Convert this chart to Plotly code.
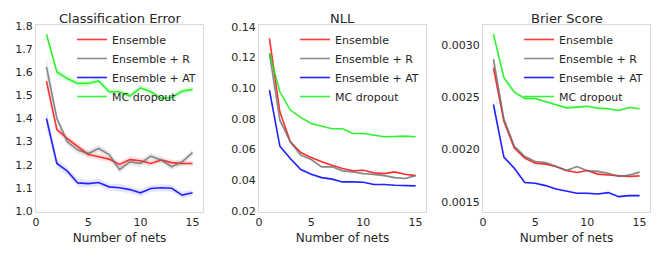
import plotly.graph_objects as go

nets = list(range(1, 16))

series_names = ["Ensemble", "Ensemble + R", "Ensemble + AT", "MC dropout"]
series_colors = ["rgba(255,0,0,0.78)", "rgba(110,110,110,0.8)", "rgba(0,0,255,0.85)", "rgba(0,240,0,0.78)"]
band_colors = ["rgba(255,0,0,0.12)", "rgba(110,110,110,0.15)", "rgba(0,0,255,0.10)", "rgba(0,235,0,0.15)"]

panel_titles = ["Classification Error", "NLL", "Brier Score"]
x_title = "Number of nets"

# Classification error
ce_ens = [1.562, 1.352, 1.313, 1.277, 1.244, 1.234, 1.224, 1.201, 1.222, 1.217, 1.205, 1.220, 1.209, 1.205, 1.205]
ce_ens_r = [1.624, 1.400, 1.299, 1.263, 1.248, 1.270, 1.244, 1.179, 1.212, 1.205, 1.237, 1.220, 1.191, 1.212, 1.252]
ce_ens_at = [1.400, 1.205, 1.172, 1.121, 1.118, 1.123, 1.104, 1.100, 1.092, 1.078, 1.097, 1.100, 1.098, 1.068, 1.078]
ce_mc = [1.765, 1.602, 1.573, 1.552, 1.552, 1.563, 1.516, 1.516, 1.497, 1.533, 1.516, 1.487, 1.491, 1.518, 1.526]
ce_ens_sd = [0.025, 0.015, 0.015, 0.015, 0.014, 0.014, 0.013, 0.013, 0.013, 0.013, 0.012, 0.012, 0.012, 0.012, 0.012]
ce_ens_r_sd = [0.045, 0.020, 0.016, 0.016, 0.015, 0.015, 0.015, 0.015, 0.015, 0.015, 0.015, 0.014, 0.014, 0.014, 0.014]
ce_ens_at_sd = [0.040, 0.020, 0.018, 0.018, 0.016, 0.016, 0.016, 0.016, 0.016, 0.016, 0.015, 0.015, 0.015, 0.015, 0.015]
ce_mc_sd = [0.015, 0.015, 0.014, 0.013, 0.013, 0.013, 0.013, 0.013, 0.013, 0.013, 0.013, 0.012, 0.012, 0.012, 0.012]

# NLL
nll_ens = [0.1324, 0.0846, 0.0650, 0.0580, 0.0548, 0.0520, 0.0498, 0.0476, 0.0461, 0.0465, 0.0448, 0.0443, 0.0454, 0.0439, 0.0430]
nll_ens_r = [0.1226, 0.0791, 0.0650, 0.0563, 0.0535, 0.0487, 0.0487, 0.0461, 0.0454, 0.0443, 0.0437, 0.0430, 0.0417, 0.0411, 0.0430]
nll_ens_at = [0.0987, 0.0622, 0.0541, 0.0470, 0.0439, 0.0417, 0.0407, 0.0389, 0.0389, 0.0387, 0.0372, 0.0372, 0.0367, 0.0367, 0.0363]
nll_mc = [0.1226, 0.0976, 0.0857, 0.0809, 0.0770, 0.0752, 0.0735, 0.0735, 0.0704, 0.0704, 0.0693, 0.0683, 0.0685, 0.0687, 0.0683]
nll_ens_sd = [0.004, 0.0012, 0.0008, 0.0007, 0.0006, 0.0006, 0.0005, 0.0005, 0.0005, 0.0005, 0.0005, 0.0005, 0.0005, 0.0005, 0.0005]
nll_ens_r_sd = [0.003, 0.0012, 0.0008, 0.0007, 0.0006, 0.0006, 0.0005, 0.0005, 0.0005, 0.0005, 0.0005, 0.0005, 0.0005, 0.0005, 0.0005]
nll_ens_at_sd = [0.004, 0.0010, 0.0007, 0.0006, 0.0005, 0.0005, 0.0005, 0.0005, 0.0005, 0.0005, 0.0005, 0.0005, 0.0005, 0.0005, 0.0005]
nll_mc_sd = [0.002, 0.0008, 0.0006, 0.0005, 0.0005, 0.0005, 0.0005, 0.0005, 0.0005, 0.0005, 0.0005, 0.0005, 0.0005, 0.0005, 0.0005]

# Brier score
br_ens = [0.002785, 0.002271, 0.002014, 0.001917, 0.001869, 0.001860, 0.001837, 0.001799, 0.001780, 0.001799, 0.001764, 0.001754, 0.001751, 0.001741, 0.001747]
br_ens_r = [0.002865, 0.002293, 0.002030, 0.001933, 0.001885, 0.001876, 0.001837, 0.001799, 0.001837, 0.001796, 0.001790, 0.001773, 0.001741, 0.001754, 0.001783]
br_ens_at = [0.002431, 0.001927, 0.001821, 0.001683, 0.001676, 0.001654, 0.001622, 0.001603, 0.001580, 0.001580, 0.001574, 0.001587, 0.001548, 0.001558, 0.001558]
br_mc = [0.003106, 0.002688, 0.002550, 0.002489, 0.002489, 0.002457, 0.002428, 0.002399, 0.002406, 0.002415, 0.002396, 0.002390, 0.002374, 0.002403, 0.002390]
br_ens_sd = [0.00006, 0.00002, 0.000015, 0.000012, 0.00001, 0.00001, 0.00001, 0.00001, 0.00001, 0.00001, 0.00001, 0.00001, 0.00001, 0.00001, 0.00001]
br_ens_r_sd = [0.00006, 0.00002, 0.000015, 0.000012, 0.00001, 0.00001, 0.00001, 0.00001, 0.00001, 0.00001, 0.00001, 0.00001, 0.00001, 0.00001, 0.00001]
br_ens_at_sd = [0.00006, 0.00002, 0.000015, 0.000012, 0.00001, 0.00001, 0.00001, 0.00001, 0.00001, 0.00001, 0.00001, 0.00001, 0.00001, 0.00001, 0.00001]
br_mc_sd = [0.00004, 0.00002, 0.000015, 0.000012, 0.00001, 0.00001, 0.00001, 0.00001, 0.00001, 0.00001, 0.00001, 0.00001, 0.00001, 0.00001, 0.00001]

x_ticks = [0, 5, 10, 15]
ce_ticks = [1.0, 1.1, 1.2, 1.3, 1.4, 1.5, 1.6, 1.7, 1.8]
nll_ticks = [0.02, 0.04, 0.06, 0.08, 0.10, 0.12, 0.14]
br_ticks = [0.0015, 0.0020, 0.0025, 0.0030]

panels = [
    ([ce_ens, ce_ens_r, ce_ens_at, ce_mc], [ce_ens_sd, ce_ens_r_sd, ce_ens_at_sd, ce_mc_sd], ce_ticks, ".1f", [0.995, 1.805]),
    ([nll_ens, nll_ens_r, nll_ens_at, nll_mc], [nll_ens_sd, nll_ens_r_sd, nll_ens_at_sd, nll_mc_sd], nll_ticks, ".2f", [0.0193, 0.1411]),
    ([br_ens, br_ens_r, br_ens_at, br_mc], [br_ens_sd, br_ens_r_sd, br_ens_at_sd, br_mc_sd], br_ticks, ".4f", [0.001401, 0.003193]),
]

W, H = 664, 256
x_domains = [[36 / W, 203 / W], [259 / W, 426 / W], [483 / W, 650 / W]]
y_domain = [(H - 212) / H, (H - 25) / H]
FONT = "DejaVu Sans"
TXT = "#262626"

fig = go.Figure()
legend_keys = ["legend", "legend2", "legend3"]

for p, (vals, sds, yt, fmt, yr) in enumerate(panels):
    xa = "x" if p == 0 else f"x{p+1}"
    ya = "y" if p == 0 else f"y{p+1}"
    for s in range(4):
        v, sd = vals[s], sds[s]
        upper = [a + b for a, b in zip(v, sd)]
        lower = [a - b for a, b in zip(v, sd)]
        fig.add_trace(go.Scatter(
            x=nets + nets[::-1], y=upper + lower[::-1], fill="toself",
            fillcolor=band_colors[s], line=dict(width=0), mode="lines",
            hoverinfo="skip", showlegend=False, xaxis=xa, yaxis=ya))
    for s in range(4):
        fig.add_trace(go.Scatter(
            x=nets, y=vals[s], mode="lines", name=series_names[s],
            line=dict(color=series_colors[s], width=1.6),
            legend=legend_keys[p], showlegend=True, xaxis=xa, yaxis=ya))

    ax_common = dict(showgrid=False, zeroline=False, showline=True, mirror=True,
                     linecolor="#d9d9d9", linewidth=1, ticks="", automargin=False,
                     tickfont=dict(family=FONT, size=11, color=TXT))
    fig.update_layout(**{
        ("xaxis" if p == 0 else f"xaxis{p+1}"): dict(
            domain=x_domains[p], anchor=ya, range=[0, 16], tickvals=x_ticks,
            title=dict(text=x_title, font=dict(family=FONT, size=12, color=TXT), standoff=5),
            **ax_common),
        ("yaxis" if p == 0 else f"yaxis{p+1}"): dict(
            domain=y_domain, anchor=xa, range=yr, tickvals=yt, tickformat=fmt,
            **ax_common),
    })
    fig.add_annotation(text=panel_titles[p], xref="paper", yref="paper",
                       x=(x_domains[p][0] + x_domains[p][1]) / 2, y=y_domain[1],
                       xanchor="center", yanchor="bottom", yshift=-3, showarrow=False,
                       font=dict(family=FONT, size=13, color=TXT))
    fig.update_layout(**{legend_keys[p]: dict(
        x=x_domains[p][1] - 2 / W, y=y_domain[1] + 0 / H, xanchor="right", yanchor="top",
        bgcolor="rgba(0,0,0,0)", borderwidth=0, tracegroupgap=0,
        font=dict(family=FONT, size=11, color=TXT))})

fig.update_layout(width=W, height=H, margin=dict(l=0, r=0, t=0, b=0, autoexpand=False),
                  paper_bgcolor="white", plot_bgcolor="white", showlegend=True)

fig.write_html("out.html", config={"displayModeBar": False},
               post_script="document.body.style.margin='0';")
